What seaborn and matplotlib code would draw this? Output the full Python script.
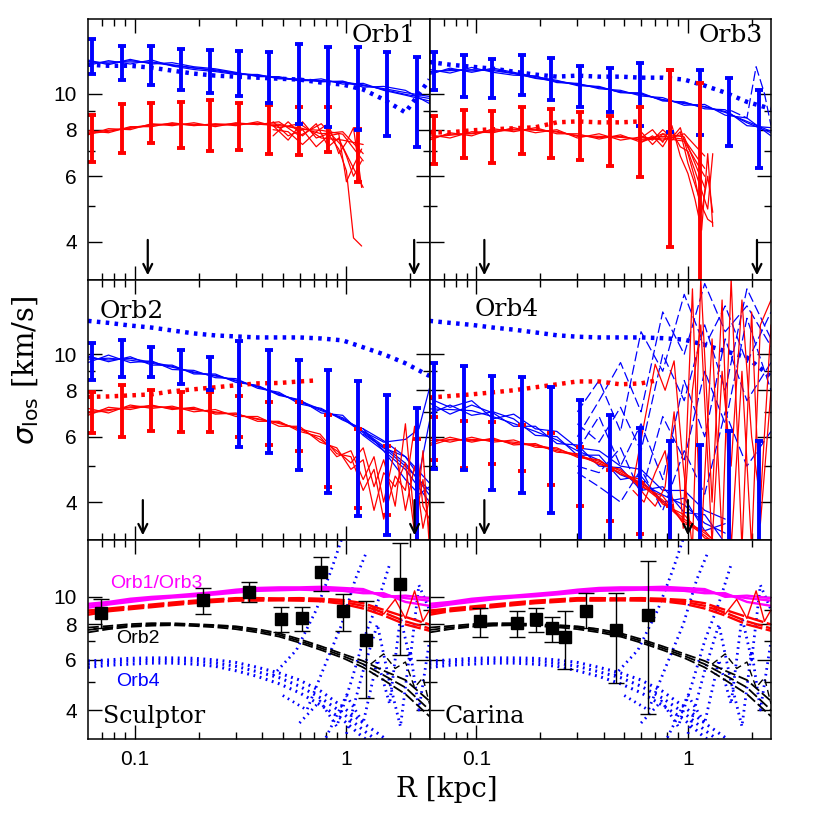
import numpy as np
import pandas as pd
import matplotlib
matplotlib.use("Agg")
import matplotlib.pyplot as plt
import seaborn as sns
from matplotlib.ticker import FixedLocator, FixedFormatter, NullFormatter

# ---------------- data ----------------
R_LINE = [0.06, 0.075, 0.095, 0.12, 0.15, 0.19, 0.24, 0.30, 0.38, 0.48, 0.60, 0.76, 0.96, 1.2, 1.5, 1.9, 2.47]
R_BIN = [0.0627, 0.0869, 0.119, 0.165, 0.226, 0.310, 0.429, 0.594, 0.822, 1.14, 1.56, 2.16]
R_RDOT = [0.06, 0.075, 0.095, 0.12, 0.15, 0.19, 0.24, 0.30, 0.38, 0.48, 0.60, 0.71]

# Orb1
orb1_blue_a = [12.07, 12.15, 12.15, 12.15, 11.95, 11.73, 11.52, 11.31, 11.17, 11.03, 10.9, 10.83, 10.7, 10.5, 10.31, 10.06, 9.82]
orb1_blue_b = [12.3, 11.95, 12.35, 12.0, 12.1, 11.8, 11.65, 11.4, 11.1, 11.1, 10.8, 10.95, 10.6, 10.65, 10.2, 9.9, 9.55]
orb1_blue_c = [11.9, 12.25, 12.0, 12.3, 11.85, 11.6, 11.45, 11.25, 11.25, 10.95, 10.95, 10.75, 10.8, 10.4, 10.45, 10.2, 9.4]
orb1_blue_d = [12.2, 12.05, 12.25, 12.1, 11.9, 11.7, 11.58, 11.35, 11.2, 11.0, 10.85, 10.8, 10.75, 10.55, 10.25, 9.95, 9.7]
orb1_blue_dot = [11.95, 11.87, 11.87, 11.73, 11.52, 11.31, 11.17, 11.1, 11.03, 10.96, 10.9, 10.7, 10.57, 10.25, 9.64, 8.9, 10.9]
orb1_red_a = [7.87, 7.97, 8.07, 8.22, 8.27, 8.27, 8.22, 8.27, 8.32, 8.27, 8.02, 7.97, 7.78, 6.6]
orb1_red_b = [7.75, 8.05, 8.0, 8.3, 8.2, 8.35, 8.15, 8.35, 8.25, 8.4, 7.7, 8.3, 7.2, 5.6]
orb1_red_c = [7.95, 7.85, 8.15, 8.15, 8.35, 8.2, 8.3, 8.2, 8.4, 8.1, 8.3, 7.6, 7.5, 7.3]
orb1_red_d = [7.8, 7.92, 8.1, 8.25, 8.3, 8.22, 8.26, 8.3, 8.28, 8.2, 8.1, 7.8, 7.9, 6.9]
R_TAIL1 = [0.45, 0.53, 0.62, 0.72, 0.82, 0.92, 1.0, 1.08, 1.18]
orb1_red_t1 = [8.2, 7.5, 8.4, 7.6, 7.8, 7.1, 6.2, 4.1, 3.9]
orb1_red_t2 = [7.7, 8.4, 7.7, 8.3, 7.2, 7.6, 6.8, 6.0, 6.6]
orb1_red_t3 = [8.0, 7.9, 7.3, 7.9, 8.3, 6.9, 7.4, 8.1, 5.6]
orb1_red_t4 = [8.4, 7.7, 8.0, 7.2, 7.7, 7.8, 5.8, 6.4, 7.1]
orb1_berr_hi = [14.0, 13.4, 13.4, 13.2, 13.1, 13.0, 12.95, 13.6, 13.35, 13.35, 12.95, 12.5]
orb1_berr_lo = [11.25, 10.9, 10.57, 10.2, 10.06, 9.82, 9.46, 8.27, 8.12, 7.97, 7.68, 7.18]
orb1_rerr_hi = [8.74, 9.35, 9.46, 9.5, 9.58, 9.46, 9.29, 9.18, 9.23, 8.02]
orb1_rerr_lo = [6.55, 6.92, 7.36, 7.13, 7.0, 7.05, 6.88, 6.84, 6.96, 5.79]

# Orb3
orb3_blue_a = [11.45, 11.52, 11.59, 11.52, 11.31, 11.03, 10.76, 10.57, 10.37, 10.12, 9.94, 9.64, 9.40, 9.23, 8.9, 8.42, 7.92]
orb3_blue_b = [11.25, 11.7, 11.4, 11.7, 11.4, 11.1, 10.85, 10.5, 10.45, 10.05, 10.05, 9.55, 9.5, 9.1, 9.05, 8.2, 8.1]
orb3_blue_c = [11.6, 11.35, 11.75, 11.4, 11.2, 11.15, 10.7, 10.65, 10.3, 10.2, 9.85, 9.75, 9.3, 9.35, 8.75, 8.6, 7.7]
orb3_blue_d = [11.35, 11.6, 11.5, 11.6, 11.35, 10.98, 10.8, 10.6, 10.4, 10.08, 9.98, 9.6, 9.45, 9.2, 8.95, 8.35, 7.85]
R_T3B = [1.6, 1.9, 2.1, 2.3, 2.47]
orb3_blue_t1 = [9.0, 8.6, 11.8, 10.0, 8.2]
orb3_blue_dot = [12.15, 11.95, 11.8, 11.66, 11.45, 11.24, 11.1, 11.17, 11.1, 11.1, 11.03, 11.03, 10.9, 10.5, 10.06, 9.5, 9.1]
orb3_red_a = [7.63, 7.73, 7.83, 7.97, 8.02, 7.97, 7.92, 7.68, 7.68, 7.63, 7.54, 7.68, 7.54, 6.3]
orb3_red_b = [7.5, 7.85, 7.7, 8.05, 7.9, 8.1, 7.8, 7.8, 7.55, 7.75, 7.4, 7.8, 7.65, 5.6]
orb3_red_c = [7.75, 7.6, 7.9, 7.85, 8.1, 7.85, 8.0, 7.6, 7.8, 7.5, 7.65, 7.5, 7.8, 6.8]
orb3_red_d = [7.58, 7.78, 7.8, 7.92, 7.98, 8.02, 7.88, 7.72, 7.62, 7.68, 7.5, 7.6, 7.45, 6.0]
R_TAIL3 = [0.6, 0.68, 0.76, 0.84, 0.92, 1.0, 1.08, 1.16, 1.24, 1.31]
orb3_red_t1 = [7.6, 8.0, 7.4, 8.2, 6.8, 6.1, 5.2, 4.3, 6.9, 4.4]
orb3_red_t2 = [7.9, 7.3, 7.8, 7.5, 7.9, 6.5, 5.7, 5.0, 4.6, 4.5]
orb3_red_t3 = [7.4, 7.7, 7.2, 7.9, 7.2, 7.0, 6.2, 5.5, 4.9, 6.9]
orb3_red_t4 = [7.7, 7.5, 8.0, 7.6, 8.1, 6.9, 5.9, 4.8, 6.0, 4.8]
orb3_red_dot = [7.87, 7.87, 7.97, 8.02, 8.07, 8.12, 8.37, 8.42, 8.37, 8.37, 8.42]
orb3_berr_hi = [12.95, 12.71, 12.4, 12.71, 12.47, 11.87, 11.73, 12.1, 11.59, 11.59, 11.03, 10.19]
orb3_berr_lo = [10.19, 9.76, 9.7, 9.94, 9.58, 9.18, 8.9, 8.17, 7.87, 7.73, 7.22, 6.31]
orb3_rerr_hi = [8.68, 9.01, 8.96, 9.18, 9.07, 8.9, 8.68, 9.23, 11.6, 10.7]
orb3_rerr_lo = [6.47, 6.71, 6.51, 6.88, 6.71, 6.63, 6.39, 5.97, 3.88, 2.5]

# Orb2
orb2_blue_a = [9.70, 9.76, 9.64, 9.46, 9.23, 8.96, 8.74, 8.52, 8.17, 7.83, 7.45, 7.05, 6.75, 6.2, 5.66, 5.09, 4.18]
orb2_blue_b = [9.9, 9.55, 9.85, 9.35, 9.35, 8.85, 8.85, 8.4, 8.25, 7.75, 7.55, 6.95, 6.85, 6.05, 5.5, 4.9, 4.0]
orb2_blue_c = [9.5, 9.95, 9.5, 9.6, 9.1, 9.05, 8.65, 8.6, 8.1, 7.9, 7.35, 7.15, 6.65, 6.3, 5.85, 5.3, 4.5]
orb2_blue_d = [9.8, 9.65, 9.75, 9.52, 9.28, 8.92, 8.78, 8.48, 8.2, 7.8, 7.5, 7.1, 6.7, 6.15, 5.6, 5.0, 4.3]
R_T2B = [1.2, 1.5, 1.9, 2.2, 2.47]
orb2_blue_t1 = [6.2, 5.8, 5.9, 6.3, 8.1]
orb2_blue_t2 = [6.1, 5.6, 5.3, 4.7, 6.6]
orb2_blue_t3 = [6.3, 5.5, 4.6, 4.2, 4.4]
orb2_blue_dot = [12.3, 12.15, 11.95, 11.8, 11.59, 11.38, 11.24, 11.17, 11.1, 11.1, 11.1, 11.03, 10.9, 10.44, 10.0, 9.46, 8.74]
orb2_red_a = [7.0, 7.1, 7.18, 7.22, 7.18, 7.1, 7.0, 6.88, 6.71, 6.51, 6.31]
orb2_red_b = [6.85, 7.2, 7.1, 7.3, 7.1, 7.2, 6.9, 6.95, 6.6, 6.6, 6.2]
orb2_red_c = [7.15, 6.95, 7.3, 7.15, 7.25, 7.0, 7.1, 6.8, 6.8, 6.4, 6.4]
orb2_red_d = [6.95, 7.05, 7.22, 7.26, 7.15, 7.14, 6.96, 6.9, 6.68, 6.55, 6.28]
R_TAIL2 = [0.6, 0.75, 0.9, 1.05, 1.2, 1.35, 1.5, 1.7, 1.9, 2.1, 2.3, 2.47]
orb2_red_t1 = [6.3, 5.9, 5.5, 5.1, 5.6, 4.4, 5.2, 3.9, 6.5, 3.5, 4.6, 3.3]
orb2_red_t2 = [6.2, 6.0, 5.3, 5.5, 4.6, 5.3, 4.0, 5.6, 3.8, 5.0, 3.4, 4.1]
orb2_red_t3 = [6.4, 5.8, 5.6, 4.9, 5.2, 3.8, 4.8, 4.4, 5.1, 3.3, 5.5, 3.0]
orb2_red_t4 = [6.3, 6.1, 5.4, 5.3, 4.3, 4.9, 3.6, 4.7, 4.3, 6.4, 3.9, 3.6]
orb2_red_dot = [7.68, 7.7, 7.75, 7.8, 7.95, 8.05, 8.15, 8.25, 8.35, 8.37, 8.45, 8.5]
orb2_berr_hi = [10.7, 10.9, 10.44, 10.25, 9.82, 10.83, 10.25, 9.64, 9.07, 8.47, 7.78, 7.18]
orb2_berr_lo = [8.52, 8.68, 8.68, 8.32, 8.02, 5.62, 5.41, 4.87, 4.23, 3.68, 3.27, 2.8]
orb2_rerr_hi = [7.92, 8.27, 8.02, 7.92, 7.92, 7.73, 7.45, 7.45, 6.88, 6.31, 5.67, 5.93]
orb2_rerr_lo = [6.12, 5.97, 6.2, 6.16, 6.16, 6.0, 5.71, 5.5, 4.4, 3.86, 3.7, 2.8]

# Orb4
orb4_blue_a = [7.13, 7.1, 7.05, 6.79, 6.51, 6.2, 5.88, 5.5, 5.19, 4.74, 4.5, 4.18, 3.93, 3.51, 3.3]
orb4_blue_b = [7.4, 6.9, 7.3, 6.95, 6.4, 6.4, 5.75, 5.7, 5.0, 4.95, 4.3, 4.4, 3.75, 3.7, 3.1]
orb4_blue_c = [6.9, 7.3, 6.85, 7.0, 6.7, 6.05, 6.0, 5.35, 5.35, 4.6, 4.7, 4.0, 4.1, 3.35, 3.5]
orb4_blue_d = [7.6, 7.2, 7.5, 6.7, 6.9, 6.3, 6.2, 5.6, 5.5, 5.0, 4.9, 4.3, 4.3, 3.8, 3.6]
R_T4 = [0.3, 0.38, 0.48, 0.6, 0.76, 0.96, 1.2, 1.5, 1.9, 2.47]
orb4_bdash_1 = [7.0, 8.5, 6.2, 11.5, 9.0, 14.5, 10.5, 13.5, 9.5, 13.0]
orb4_bdash_2 = [6.5, 5.8, 7.2, 5.5, 10.0, 7.5, 12.0, 8.0, 15.0, 11.0]
orb4_bdash_3 = [5.5, 6.8, 5.0, 6.5, 4.6, 8.5, 6.0, 11.0, 7.5, 9.5]
orb4_bdash_4 = [5.0, 4.8, 5.6, 4.2, 6.8, 5.2, 9.0, 6.5, 12.5, 8.0]
orb4_bdash_5 = [4.8, 4.4, 4.0, 4.9, 3.8, 5.5, 4.2, 7.0, 5.0, 6.2]
orb4_bdash_6 = [6.0, 7.5, 9.5, 7.0, 13.0, 10.0, 15.5, 11.5, 13.5, 10.5]
orb4_blue_dot = [12.3, 12.15, 12.0, 11.8, 11.65, 11.45, 11.25, 11.15, 11.1, 11.1, 11.1, 11.05, 10.95, 10.6, 10.2, 9.8, 8.7]
orb4_red_dot = [7.65, 7.72, 7.8, 7.9, 8.0, 8.15, 8.3, 8.45, 8.45, 8.3, 8.35, 8.5]
orb4_red_a = [5.86, 5.88, 5.9, 5.86, 5.8, 5.7, 5.55, 5.35, 5.15, 4.85, 4.5, 4.05, 3.6, 3.3, 3.0]
orb4_red_b = [5.75, 5.98, 5.8, 5.95, 5.7, 5.75, 5.45, 5.4, 5.05, 4.9, 4.4, 4.15, 3.5, 3.35, 2.9]
orb4_red_c = [5.95, 5.8, 5.98, 5.8, 5.88, 5.62, 5.6, 5.28, 5.2, 4.75, 4.6, 3.95, 3.7, 3.2, 3.1]
orb4_red_d = [5.68, 5.9, 5.85, 5.9, 5.75, 5.68, 5.5, 5.32, 5.1, 4.8, 4.45, 4.0, 3.55, 3.25, 2.95]
R_R4 = [0.55, 0.62, 0.7, 0.78, 0.86, 0.95, 1.05, 1.15, 1.3, 1.45, 1.6, 1.8, 2.0, 2.2, 2.47]
orb4_rwild_1 = [4.5, 6.5, 9.4, 8.0, 9.6, 5.0, 3.0, 16.0, 4.0, 14.0, 3.0, 9.0, 3.0, 12.0, 14.0]
orb4_rwild_2 = [4.3, 4.0, 4.8, 5.5, 3.8, 3.5, 15.0, 3.0, 11.0, 3.2, 16.0, 3.0, 13.0, 3.5, 8.0]
orb4_rwild_3 = [4.6, 4.2, 3.9, 4.4, 7.0, 3.4, 8.0, 12.0, 3.1, 9.0, 5.0, 14.0, 6.0, 4.0, 12.0]
orb4_berr_hi = [9.46, 9.29, 8.74, 8.68, 8.17, 7.54, 6.88, 6.35, 5.84, 5.71, 6.2, 5.84]
orb4_berr_lo = [4.9, 4.87, 4.32, 4.23, 3.75, 2.8, 2.8, 2.8, 2.8, 2.8, 2.8, 2.8]
orb4_rerr_hi = [6.79, 6.63, 6.59, 6.47, 6.12, 5.62, 4.87, 4.5, 3.9]
orb4_rerr_lo = [5.19, 4.93, 5.06, 4.84, 4.46, 3.9, 3.56, 3.29, 2.8]

# bottom row model curves (Orb1/Orb3, Orb2, Orb4)
mag_a = [9.3, 9.5, 9.75, 9.9, 10.0, 10.15, 10.3, 10.5, 10.65, 10.7, 10.7, 10.7, 10.65, 10.5, 10.15, 9.9, 9.7]
mag_b = [9.15, 9.4, 9.6, 9.8, 9.95, 10.05, 10.2, 10.35, 10.5, 10.55, 10.6, 10.55, 10.5, 10.3, 10.3, 9.6, 9.3]
mag_c = [9.45, 9.6, 9.85, 10.0, 10.1, 10.25, 10.4, 10.6, 10.75, 10.8, 10.8, 10.85, 10.75, 10.65, 10.0, 10.1, 9.9]
reddash_a = [8.8, 9.0, 9.15, 9.3, 9.45, 9.6, 9.7, 9.8, 9.8, 9.8, 9.8, 9.75, 9.6, 9.3, 8.8, 8.2, 7.75]
reddash_b = [8.65, 8.9, 9.05, 9.2, 9.35, 9.5, 9.6, 9.7, 9.7, 9.72, 9.7, 9.65, 9.45, 9.1, 8.6, 8.0, 7.6]
reddash_c = [8.95, 9.1, 9.25, 9.4, 9.55, 9.7, 9.8, 9.9, 9.9, 9.88, 9.9, 9.85, 9.75, 9.5, 9.0, 8.5, 8.0]
R_BTAIL = [1.3, 1.5, 1.7, 1.9, 2.1, 2.3, 2.47]
red_btail = [9.3, 8.7, 9.8, 8.4, 10.5, 8.2, 9.0]
black_a = [7.65, 7.8, 7.93, 8.0, 8.0, 7.95, 7.9, 7.8, 7.6, 7.35, 7.0, 6.6, 6.2, 5.8, 5.3, 4.8, 4.0]
black_b = [7.5, 7.7, 7.85, 7.92, 7.95, 7.9, 7.82, 7.7, 7.5, 7.25, 6.9, 6.5, 6.1, 5.65, 5.1, 4.55, 3.8]
black_c = [7.8, 7.9, 8.02, 8.08, 8.08, 8.02, 7.96, 7.88, 7.7, 7.45, 7.1, 6.7, 6.3, 5.95, 5.5, 5.1, 4.3]
black_tail = [5.8, 6.3, 5.6, 5.9, 4.8, 5.2, 4.2]
bdot_a = [5.8, 5.88, 5.95, 5.98, 5.98, 5.95, 5.85, 5.7, 5.45, 5.2, 4.85, 4.4, 3.9, 3.4, 3.0]
bdot_b = [5.65, 5.75, 5.8, 5.85, 5.85, 5.8, 5.7, 5.5, 5.25, 4.95, 4.6, 4.15, 3.7, 3.2, 2.9]
bdot_c = [5.95, 6.0, 6.08, 6.1, 6.1, 6.08, 6.0, 5.88, 5.65, 5.4, 5.1, 4.65, 4.1, 3.6, 3.2]
wild1_r = [0.45, 0.58, 0.72, 0.85, 0.95]
wild1_s = [5.3, 6.5, 9.0, 12.5, 16.0]
wild2_r = [0.5, 0.65, 0.78, 0.95, 1.1, 1.25]
wild2_s = [4.5, 4.0, 5.6, 8.0, 11.5, 14.5]
wild3_r = [0.6, 0.75, 0.9, 1.05, 1.2, 1.4, 1.6]
wild3_s = [3.6, 4.3, 3.5, 5.0, 7.0, 9.5, 13.0]
wild4_r = [0.8, 1.0, 1.2, 1.4, 1.6, 1.8, 2.0, 2.2, 2.47]
wild4_s = [3.2, 4.5, 3.6, 6.0, 4.2, 8.5, 6.0, 11.0, 9.0]
wild5_r = [1.0, 1.2, 1.4, 1.6, 1.8, 2.0, 2.2, 2.47]
wild5_s = [3.3, 5.5, 8.0, 5.0, 3.5, 6.5, 4.0, 7.0]

# observed dispersion profiles
scl_r = [0.0689, 0.209, 0.346, 0.489, 0.616, 0.760, 0.968, 1.239, 1.80]
scl_sig = [8.77, 9.74, 10.43, 8.37, 8.41, 12.2, 8.9, 7.04, 11.1]
scl_hi = [9.79, 10.73, 11.3, 9.19, 9.19, 13.8, 10.25, 9.7, 15.5]
scl_lo = [7.75, 8.73, 9.6, 7.5, 7.59, 10.5, 7.59, 4.41, 6.27]
car_r = [0.1044, 0.156, 0.1905, 0.2286, 0.261, 0.331, 0.456, 0.648]
car_sig = [8.24, 8.07, 8.37, 7.75, 7.24, 8.95, 7.65, 8.65]
car_hi = [9.14, 8.9, 9.14, 8.53, 8.9, 10.3, 10.3, 13.4]
car_lo = [7.2, 7.2, 7.5, 6.95, 5.57, 7.8, 4.99, 3.86]

# arrows (radii)
arrows_orb1 = [0.115, 2.09]
arrows_orb3 = [0.109, 2.12]
arrows_orb2 = [0.109, 2.1]
arrows_orb4 = [0.109, 1.0]

# ---------------- style ----------------
sns.set_style("ticks")
plt.rcParams['font.family'] = ['Liberation Sans', 'DejaVu Sans']
plt.rcParams['axes.linewidth'] = 1.1
plt.rcParams['axes.edgecolor'] = 'black'
plt.rcParams['xtick.color'] = 'black'
plt.rcParams['ytick.color'] = 'black'
plt.rcParams['text.color'] = 'black'

BLUE = '#0000ff'
RED = '#ff0000'
MAG = '#ff00ff'
DOT_BIG = (0, (0.8, 1.2))
DOT_SMALL = (0, (0.6, 1.5))


def bundle(ax, x, ys_list, color, lw=0.9, ls='-', z=2):
    rows = []
    for k, ys in enumerate(ys_list):
        for xv, yv in zip(x, ys):
            rows.append((xv, yv, k))
    df = pd.DataFrame(rows, columns=['R', 'sigma', 'line'])
    sns.lineplot(data=df, x='R', y='sigma', units='line', estimator=None,
                 color=color, linewidth=lw, linestyle=ls, ax=ax,
                 legend=False, sort=False, zorder=z)


def bars(ax, x, lo, hi, color, lw=2.8, cap=3.2, z=3):
    lo = np.array(lo); hi = np.array(hi)
    xx = np.array(x[:len(lo)])
    mid = np.sqrt(lo * hi)
    ax.errorbar(xx, mid, yerr=[mid - lo, hi - mid], fmt='none', ecolor=color,
                elinewidth=lw, capsize=cap, capthick=lw, zorder=z)


def arrows(ax, xs):
    for xv in xs:
        ax.annotate('', xy=(xv, 3.2), xytext=(xv, 4.12),
                    arrowprops=dict(arrowstyle='->', lw=1.6, color='black',
                                    mutation_scale=16), zorder=6)


fig = plt.figure(figsize=(8.14, 8.14), dpi=100)
gs = fig.add_gridspec(3, 2, height_ratios=[261, 260, 199], left=0.1081, right=0.9472,
                      top=0.9767, bottom=0.0921, hspace=0, wspace=0)
axes = [[fig.add_subplot(gs[r, c]) for c in range(2)] for r in range(3)]

for r in range(3):
    for c in range(2):
        ax = axes[r][c]
        ax.set_xscale('log'); ax.set_yscale('log')

# Orb1
ax = axes[0][0]
bundle(ax, R_LINE, [orb1_blue_a, orb1_blue_b, orb1_blue_c, orb1_blue_d], BLUE)
bundle(ax, R_LINE, [orb1_blue_dot], BLUE, lw=3.2, ls=DOT_BIG)
bundle(ax, R_LINE, [orb1_red_a, orb1_red_b, orb1_red_c, orb1_red_d], RED)
bundle(ax, R_TAIL1, [orb1_red_t1, orb1_red_t2, orb1_red_t3, orb1_red_t4], RED)
bars(ax, R_BIN, orb1_rerr_lo, orb1_rerr_hi, RED)
bars(ax, R_BIN, orb1_berr_lo, orb1_berr_hi, BLUE)
arrows(ax, arrows_orb1)

# Orb3
ax = axes[0][1]
bundle(ax, R_LINE, [orb3_blue_a, orb3_blue_b, orb3_blue_c, orb3_blue_d], BLUE)
bundle(ax, R_T3B, [orb3_blue_t1], BLUE, ls=(0, (8, 3)))
bundle(ax, R_LINE, [orb3_blue_dot], BLUE, lw=3.2, ls=DOT_BIG)
bundle(ax, R_LINE, [orb3_red_a, orb3_red_b, orb3_red_c, orb3_red_d], RED)
bundle(ax, R_TAIL3, [orb3_red_t1, orb3_red_t2, orb3_red_t3, orb3_red_t4], RED)
bundle(ax, R_LINE, [orb3_red_dot], RED, lw=3.2, ls=DOT_BIG)
bars(ax, R_BIN, orb3_berr_lo, orb3_berr_hi, BLUE)
bars(ax, R_BIN, orb3_rerr_lo, orb3_rerr_hi, RED)
arrows(ax, arrows_orb3)

# Orb2
ax = axes[1][0]
bundle(ax, R_LINE, [orb2_blue_a, orb2_blue_b, orb2_blue_c, orb2_blue_d], BLUE)
bundle(ax, R_T2B, [orb2_blue_t1, orb2_blue_t2, orb2_blue_t3], BLUE)
bundle(ax, R_LINE, [orb2_blue_dot], BLUE, lw=3.2, ls=DOT_BIG)
bundle(ax, R_LINE, [orb2_red_a, orb2_red_b, orb2_red_c, orb2_red_d], RED)
bundle(ax, R_TAIL2, [orb2_red_t1, orb2_red_t2, orb2_red_t3, orb2_red_t4], RED)
bundle(ax, R_RDOT, [orb2_red_dot], RED, lw=3.2, ls=DOT_BIG)
bars(ax, R_BIN, orb2_rerr_lo, orb2_rerr_hi, RED)
bars(ax, R_BIN, orb2_berr_lo, orb2_berr_hi, BLUE)
arrows(ax, arrows_orb2)

# Orb4
ax = axes[1][1]
bundle(ax, R_LINE, [orb4_blue_a, orb4_blue_b, orb4_blue_c, orb4_blue_d], BLUE)
bundle(ax, R_T4, [orb4_bdash_1, orb4_bdash_2, orb4_bdash_3, orb4_bdash_4, orb4_bdash_5,
                  orb4_bdash_6], BLUE, ls=(0, (8, 3)))
bundle(ax, R_LINE, [orb4_blue_dot], BLUE, lw=3.2, ls=DOT_BIG)
bundle(ax, R_LINE, [orb4_red_a, orb4_red_b, orb4_red_c, orb4_red_d], RED)
bundle(ax, R_R4, [orb4_rwild_1, orb4_rwild_2, orb4_rwild_3], RED)
bundle(ax, R_RDOT, [orb4_red_dot], RED, lw=3.2, ls=DOT_BIG)
bars(ax, R_BIN, orb4_rerr_lo, orb4_rerr_hi, RED)
bars(ax, R_BIN, orb4_berr_lo, orb4_berr_hi, BLUE)
arrows(ax, arrows_orb4)

# bottom row
for c, (pr, ps, plo, phi) in enumerate([(scl_r, scl_sig, scl_lo, scl_hi),
                                         (car_r, car_sig, car_lo, car_hi)]):
    ax = axes[2][c]
    for wr, ws in [(wild1_r, wild1_s), (wild2_r, wild2_s), (wild3_r, wild3_s),
                   (wild4_r, wild4_s), (wild5_r, wild5_s)]:
        bundle(ax, wr, [ws], BLUE, lw=2.0, ls=DOT_SMALL)
    bundle(ax, R_LINE, [bdot_a, bdot_b, bdot_c], BLUE, lw=2.2, ls=DOT_SMALL)
    bundle(ax, R_LINE, [black_a, black_b, black_c], 'black', lw=1.3, ls=(0, (6, 2)))
    bundle(ax, R_BTAIL, [black_tail], 'black', lw=1.0, ls=(0, (5, 3)))
    bundle(ax, R_LINE, [mag_a, mag_b, mag_c], MAG, lw=1.7)
    bundle(ax, R_LINE, [reddash_a, reddash_b, reddash_c], RED, lw=1.7, ls=(0, (7, 1.5)))
    bundle(ax, R_BTAIL, [red_btail], RED, lw=1.0)
    ps_a = np.array(ps); lo_a = np.array(plo); hi_a = np.array(phi)
    ax.errorbar(pr, ps_a, yerr=[ps_a - lo_a, hi_a - ps_a], fmt='s', color='black',
                ms=9, ecolor='black', elinewidth=1.0, capsize=6, capthick=1.0, zorder=5)

# ticks / limits
x_major = [0.1, 1.0]
x_minor = [0.07, 0.08, 0.09, 0.2, 0.3, 0.4, 0.5, 0.6, 0.7, 0.8, 0.9, 2.0]
y_major = [4, 6, 8, 10]
y_minor = [5, 7, 9]
for r in range(3):
    for c in range(2):
        ax = axes[r][c]
        ax.set_xlim(0.06, 2.47)
        ax.set_ylim(10 ** 0.5, 10 ** 1.2)
        ax.set_xlabel(''); ax.set_ylabel('')
        ax.xaxis.set_major_locator(FixedLocator(x_major))
        ax.xaxis.set_major_formatter(FixedFormatter(['0.1', '1']))
        ax.xaxis.set_minor_locator(FixedLocator(x_minor))
        ax.xaxis.set_minor_formatter(NullFormatter())
        ax.yaxis.set_major_locator(FixedLocator(y_major))
        ax.yaxis.set_major_formatter(FixedFormatter(['4', '6', '8', '10']))
        ax.yaxis.set_minor_locator(FixedLocator(y_minor))
        ax.yaxis.set_minor_formatter(NullFormatter())
        ax.tick_params(which='both', direction='in', top=True, right=True,
                       labelleft=(c == 0), labelbottom=(r == 2), width=1.0,
                       labelsize=15, pad=8, colors='black')
        ax.tick_params(which='major', length=10)
        ax.tick_params(which='minor', length=5)
        for s in ax.spines.values():
            s.set_zorder(10)
            s.set_color('black')

serif = 'DejaVu Serif'
axes[0][0].text(0.96, 0.935, 'Orb1', transform=axes[0][0].transAxes, ha='right', va='center',
                fontsize=18, family=serif, zorder=8)
axes[0][1].text(0.975, 0.935, 'Orb3', transform=axes[0][1].transAxes, ha='right', va='center',
                fontsize=18, family=serif, zorder=8)
axes[1][0].text(0.035, 0.877, 'Orb2', transform=axes[1][0].transAxes, ha='left', va='center',
                fontsize=18, family=serif, zorder=8)
axes[1][1].text(0.132, 0.885, 'Orb4', transform=axes[1][1].transAxes, ha='left', va='center',
                fontsize=18, family=serif, zorder=8)
axes[2][0].text(0.044, 0.111, 'Sculptor', transform=axes[2][0].transAxes, ha='left', va='center',
                fontsize=17, family=serif, zorder=8)
axes[2][1].text(0.044, 0.111, 'Carina', transform=axes[2][1].transAxes, ha='left', va='center',
                fontsize=17, family=serif, zorder=8)
axes[2][0].text(0.064, 0.779, 'Orb1/Orb3', transform=axes[2][0].transAxes, ha='left', va='center',
                fontsize=14, color=MAG, zorder=8)
axes[2][0].text(0.082, 0.503, 'Orb2', transform=axes[2][0].transAxes, ha='left', va='center',
                fontsize=14, color='black', zorder=8)
axes[2][0].text(0.082, 0.291, 'Orb4', transform=axes[2][0].transAxes, ha='left', va='center',
                fontsize=14, color=BLUE, zorder=8)

fig.text(0.031, 0.545, r'$\sigma_{\rm los}$ [km/s]', rotation=90, ha='center', va='center',
         fontsize=21, family=serif)
fig.text(0.549, 0.0295, 'R [kpc]', ha='center', va='center', fontsize=20, family=serif)

fig.savefig('out.png', dpi=100)
